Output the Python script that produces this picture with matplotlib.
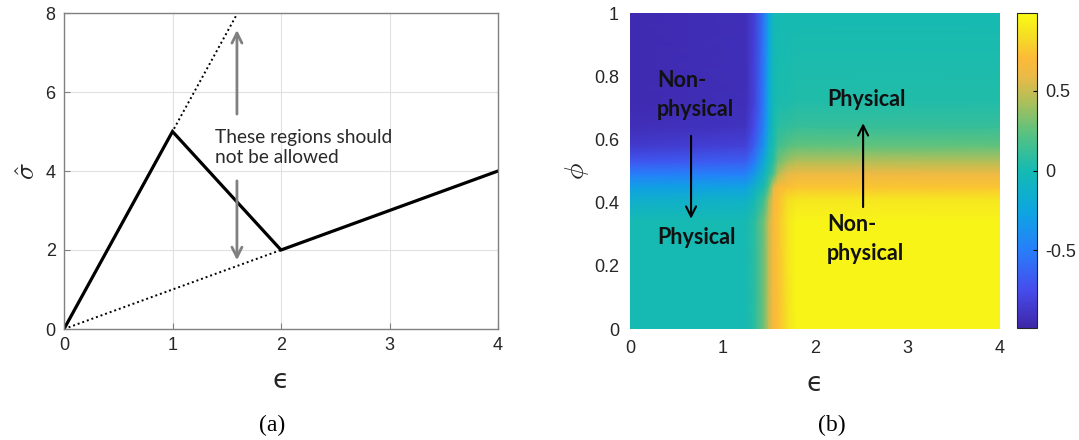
import numpy as np
import matplotlib
matplotlib.use("Agg")
import matplotlib.pyplot as plt
from matplotlib.colors import LinearSegmentedColormap

plt.rcParams['font.family'] = ['Liberation Sans', 'DejaVu Sans']
plt.rcParams['axes.unicode_minus'] = False
plt.rcParams['mathtext.fontset'] = 'cm'

# (a) piecewise stress-strain curve
eps_curve = [0, 1, 2, 4]
sigma_curve = [0, 5, 2, 4]
eps_steep = [0, 1, 1.6]
sigma_steep = [0, 5, 8]
eps_shallow = [0, 2]
sigma_shallow = [0, 2]

# (b) field values (rows: phi, cols: eps)
eps_grid = [0, 1.25, 1.35, 1.45, 1.5, 1.55, 1.6, 1.7, 1.8, 4]
phi_grid = [0, 0.34, 0.41, 0.45, 0.49, 0.53, 0.58, 0.64, 0.72, 1]
field = [
    [0.00, 0.00, 0.08, 0.30, 0.50, 0.68, 0.72, 0.86, 0.95, 0.95],
    [0.00, 0.00, 0.08, 0.30, 0.50, 0.68, 0.74, 0.88, 0.95, 0.95],
    [-0.15, -0.12, -0.02, 0.15, 0.40, 0.65, 0.72, 0.84, 0.88, 0.88],
    [-0.30, -0.28, -0.12, 0.02, 0.20, 0.55, 0.70, 0.72, 0.74, 0.74],
    [-0.50, -0.48, -0.32, -0.08, 0.05, 0.20, 0.45, 0.58, 0.62, 0.62],
    [-0.70, -0.66, -0.50, -0.20, -0.02, 0.08, 0.28, 0.40, 0.45, 0.45],
    [-0.86, -0.82, -0.65, -0.35, -0.10, 0.02, 0.15, 0.22, 0.25, 0.25],
    [-0.93, -0.90, -0.75, -0.45, -0.20, 0.00, 0.07, 0.10, 0.12, 0.12],
    [-0.95, -0.93, -0.80, -0.50, -0.22, -0.02, 0.02, 0.03, 0.04, 0.04],
    [-0.95, -0.93, -0.82, -0.52, -0.25, -0.03, 0.00, 0.00, 0.00, 0.00],
]
cbar_ticks = [-0.5, 0, 0.5]

parula = LinearSegmentedColormap.from_list('parula', [
    (0.00, (0.243, 0.150, 0.660)),
    (0.12, (0.275, 0.300, 0.930)),
    (0.25, (0.150, 0.500, 0.980)),
    (0.37, (0.050, 0.650, 0.880)),
    (0.50, (0.080, 0.730, 0.700)),
    (0.62, (0.350, 0.760, 0.500)),
    (0.72, (0.680, 0.750, 0.350)),
    (0.80, (0.920, 0.730, 0.280)),
    (0.86, (0.990, 0.730, 0.220)),
    (0.93, (0.960, 0.870, 0.140)),
    (1.00, (0.977, 0.984, 0.081)),
])

W, H = 1079, 440
fig = plt.figure(figsize=(W / 100, H / 100), dpi=100)

spine_col = '#808080'
tick_col = '#262626'
eps_label = dict(family=['DejaVu Sans'], fontsize=19, color=tick_col)

# ---- panel (a)
ax1 = fig.add_axes([64 / W, 1 - 329 / H, (498 - 64) / W, (329 - 13) / H])
ax1.plot(eps_steep, sigma_steep, color='black', lw=1.4, ls=(0, (1, 1.5)))
ax1.plot(eps_shallow, sigma_shallow, color='black', lw=1.4, ls=(0, (1, 1.5)))
ax1.plot(eps_curve, sigma_curve, color='black', lw=2.3, solid_joinstyle='miter')
ax1.set_xlim(0, 4)
ax1.set_ylim(0, 8)
ax1.set_xticks([0, 1, 2, 3, 4])
ax1.set_yticks([0, 2, 4, 6, 8])
ax1.grid(True, color='#e0e0e0', lw=0.8)
ax1.set_axisbelow(True)
for s in ax1.spines.values():
    s.set_color(spine_col)
    s.set_linewidth(1.0)
ax1.tick_params(direction='in', length=4, colors=spine_col, labelcolor=tick_col,
                labelsize=13, pad=6)
ax1.set_xlabel('\u03f5', labelpad=10, **eps_label)
ax1.set_ylabel(r'$\hat{\sigma}$', fontsize=20, color=tick_col, labelpad=3)

arrow_gray = dict(arrowstyle='->', color='#808080', lw=2, mutation_scale=18)
ax1.annotate('', xy=(1.594, 7.64), xytext=(1.594, 5.37), arrowprops=arrow_gray)
ax1.annotate('', xy=(1.594, 1.67), xytext=(1.594, 3.82), arrowprops=arrow_gray)
ax1.text(1.39, 4.6, 'These regions should\nnot be allowed', family=['Lato', 'DejaVu Sans'],
         fontsize=13.8, color='#2a2a2a', ha='left', va='center', linespacing=1.25)

fig.text(272 / W, 1 - 425 / H, '(a)', family=['Liberation Serif'], fontsize=17,
         ha='center', va='center')

# ---- panel (b)
ax2 = fig.add_axes([630 / W, 1 - 329 / H, (1000 - 630) / W, (329 - 13) / H])
EE, PP = np.meshgrid(eps_grid, phi_grid)
mesh = ax2.pcolormesh(EE, PP, np.array(field), cmap=parula, vmin=-0.985, vmax=0.985,
                      shading='gouraud')
ax2.set_xlim(0, 4)
ax2.set_ylim(0, 1)
ax2.set_xticks([0, 1, 2, 3, 4])
ax2.set_yticks([0, 0.2, 0.4, 0.6, 0.8, 1])
ax2.set_yticklabels(['0', '0.2', '0.4', '0.6', '0.8', '1'])
for s in ax2.spines.values():
    s.set_visible(False)
ax2.tick_params(direction='in', length=0, labelcolor=tick_col, labelsize=13, pad=8)
ax2.set_xlabel('\u03f5', labelpad=10, **eps_label)
ax2.set_ylabel(r'$\phi$', fontsize=20, color=tick_col, labelpad=2)

bold = dict(family=['Lato', 'DejaVu Sans'], fontsize=15.5, fontweight='bold', color='#111111',
            ha='left', va='center', linespacing=1.45)
ax2.text(0.29, 0.74, 'Non-\nphysical', **bold)
ax2.text(0.29, 0.29, 'Physical', **bold)
ax2.text(2.13, 0.725, 'Physical', **bold)
ax2.text(2.13, 0.285, 'Non-\nphysical', **bold)
arrow_k = dict(arrowstyle='->', color='black', lw=1.5, mutation_scale=18)
ax2.annotate('', xy=(0.66, 0.34), xytext=(0.66, 0.62), arrowprops=arrow_k)
ax2.annotate('', xy=(2.52, 0.66), xytext=(2.52, 0.377), arrowprops=arrow_k)

cax = fig.add_axes([1017 / W, 1 - 328 / H, 20 / W, 315 / H])
cb = fig.colorbar(mesh, cax=cax, ticks=cbar_ticks)
cb.ax.set_yticklabels(['-0.5', '0', '0.5'])
cb.outline.set_edgecolor('#262626')
cb.outline.set_linewidth(0.8)
cb.ax.tick_params(direction='in', length=3, labelsize=13, labelcolor=tick_col, pad=6)

fig.text(832 / W, 1 - 425 / H, '(b)', family=['Liberation Serif'], fontsize=17,
         ha='center', va='center')

fig.savefig('out.png', dpi=100)
